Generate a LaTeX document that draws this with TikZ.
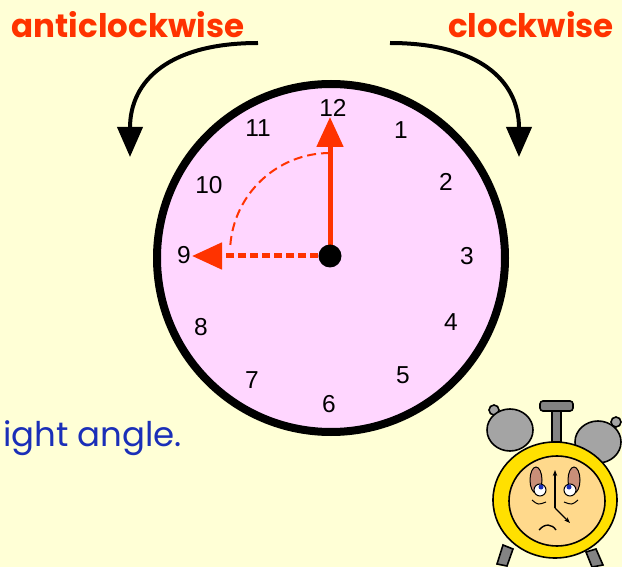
\documentclass[tikz,border=0pt]{standalone}
\usepackage{fontspec}
\setmainfont{Liberation Sans}
\newfontfamily\roundfont{Poppins}
\usepackage{tikz}
\usetikzlibrary{arrows.meta}
\usepackage{xcolor}
\definecolor{paper}{HTML}{FFFFD6}
\definecolor{dial}{HTML}{FFD6FF}
\definecolor{handred}{HTML}{FF3300}
\definecolor{inkblue}{HTML}{1A2EB8}
\definecolor{bellgrey}{HTML}{A4A4A4}
\definecolor{bodyyellow}{HTML}{FFE000}
\definecolor{facetan}{HTML}{FFD98C}
\definecolor{lidbrown}{HTML}{C98E78}
\tikzstyle{num}=[font=\fontsize{24.5}{24.5}\selectfont, inner sep=0pt]
\tikzstyle{word}=[font=\roundfont\bfseries\fontsize{32.5}{32.5}\selectfont, text=handred, inner sep=0pt]
\tikzstyle{turn}=[line width=4pt, -{Triangle[length=30pt,width=25pt]}]
\tikzstyle{hand}=[draw=handred, line width=5pt, -{Triangle[length=30pt,width=26pt,fill=handred]}]
\tikzstyle{toy}=[draw=black, line width=1.6pt]

\begin{document}
\begin{tikzpicture}[x=1pt,y=-1pt]
        \useasboundingbox (0,0) rectangle (622,567);
        \fill[paper] (0,0) rectangle (622,567);

        % words and turning arrows
        \node [word] (acw) at (128,25) {anticlockwise};
        \node [word] (cw) at (531,25) {clockwise};
        \coordinate (acws) at (258,43);
        \coordinate (acwe) at (130,157);
        \coordinate (cws) at (390,43);
        \coordinate (cwe) at (519,157);
        \draw[turn] (acws) .. controls (170,43) and (130,80) .. (acwe);
        \draw[turn] (cws) .. controls (478,43) and (519,80) .. (cwe);

        % dial
        \coordinate (c) at (331,258);
        \draw[fill=dial, line width=8pt] (c) circle[radius=174pt];
        \node [num] (n12) at (333,108) {12};
        \node [num] (n1) at (401,130) {1};
        \node [num] (n2) at (446,182) {2};
        \node [num] (n3) at (467,256) {3};
        \node [num] (n4) at (451,322) {4};
        \node [num] (n5) at (403,375) {5};
        \node [num] (n6) at (329,404) {6};
        \node [num] (n7) at (252,380) {7};
        \node [num] (n8) at (201,327) {8};
        \node [num] (n9) at (184,255) {9};
        \node [num] (n10) at (209,185) {10};
        \node [num] (n11) at (258,128) {11};

        % hands
        \coordinate (hub) at (330,256);
        \coordinate (up) at (330,117);
        \coordinate (left) at (192,256);
        \draw[handred, line width=2pt, dash pattern=on 9pt off 5pt] (330,153) arc[start angle=90, end angle=176, radius=100pt];
        \draw[hand] (hub) -- (up);
        \draw[hand, dash pattern=on 8pt off 4pt] (hub) -- (left);
        \fill (hub) circle[radius=11.5pt];

        % text left over from the slide
        \node [font=\roundfont\fontsize{34}{34}\selectfont, text=inkblue, anchor=west, inner sep=0pt] (rt) at (3,438) {ight angle.};

        % sleepy alarm clock
        \draw[toy, fill=bellgrey!80!black] (503,545) -- (513,549) -- (507,566) -- (497,564) -- cycle;
        \draw[toy, fill=bellgrey!80!black] (586,552) -- (596,549) -- (603,565) -- (592,567) -- cycle;
        \draw[toy, fill=bellgrey] (494,410) circle[radius=5pt];
        \draw[toy, fill=bellgrey] (616,422) circle[radius=5pt];
        \draw[toy, fill=bellgrey] (510,430) circle[x radius=23pt, y radius=21pt];
        \draw[toy, fill=bellgrey] (598,442) circle[x radius=23pt, y radius=21pt];
        \draw[toy, fill=bellgrey!80!black] (552,408) rectangle (561,442);
        \draw[toy, fill=bellgrey!80!black, rounded corners=3pt] (540,401) rectangle (573,411);
        \draw[toy, fill=bodyyellow] (555,500) circle[x radius=62pt, y radius=58pt];
        \draw[toy, fill=facetan] (557,501) circle[x radius=48pt, y radius=45pt];
        % face
        \draw[line width=1pt, fill=lidbrown] (536,480) circle[x radius=6pt, y radius=13pt];
        \draw[line width=1pt, fill=lidbrown] (574,480) circle[x radius=6pt, y radius=13pt];
        \draw[line width=1pt, fill=white] (540,490) circle[radius=6pt];
        \draw[line width=1pt, fill=white] (570,490) circle[radius=6pt];
        \fill[inkblue] (541,487) circle[radius=2.5pt];
        \fill[inkblue] (569,487) circle[radius=2.5pt];
        \draw[line width=1pt] (532,500) .. controls (538,505) .. (546,502);
        \draw[line width=1pt] (564,502) .. controls (572,505) .. (578,500);
        \draw[line width=1.4pt, -{Stealth[length=6pt]}] (555,508) -- (555,470);
        \draw[line width=1.4pt, -{Stealth[length=6pt]}] (555,508) -- (570,523);
        \draw[line width=1.4pt] (539,530) .. controls (545,523) and (552,524) .. (556,530);
\end{tikzpicture}
\end{document}
